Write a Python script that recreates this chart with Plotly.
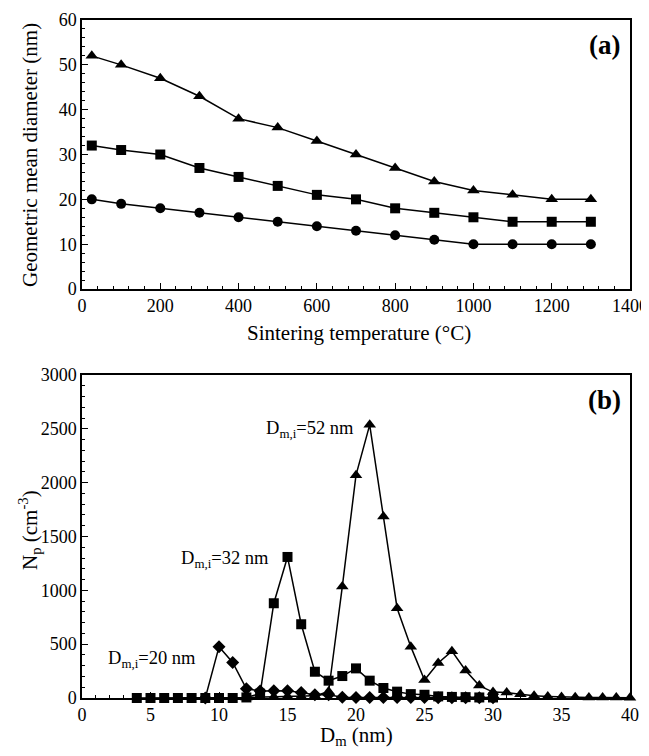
import plotly.graph_objects as go

# Panel (a): geometric mean diameter vs sintering temperature
temp_c = [25, 100, 200, 300, 400, 500, 600, 700, 800, 900, 1000, 1100, 1200, 1300]
gmd_52 = [52, 50, 47, 43, 38, 36, 33, 30, 27, 24, 22, 21, 20, 20]
gmd_32 = [32, 31, 30, 27, 25, 23, 21, 20, 18, 17, 16, 15, 15, 15]
gmd_20 = [20, 19, 18, 17, 16, 15, 14, 13, 12, 11, 10, 10, 10, 10]

# Panel (b): size distributions
dm_20 = [9, 10, 11, 12, 13, 14, 15, 16, 17, 18, 19, 20, 21, 22, 23, 24, 25, 26, 27, 28, 29, 30]
np_20 = [0, 475, 330, 85, 65, 68, 68, 50, 30, 30, 8, 5, 5, 5, 5, 5, 5, 3, 3, 2, 2, 2]
dm_32 = [4, 5, 6, 7, 8, 9, 10, 11, 12, 13, 14, 15, 16, 17, 18, 19, 20, 21, 22, 23, 24, 25, 26, 27, 28, 29, 30]
np_32 = [0, 0, 0, 0, 0, 0, 0, 0, 5, 40, 880, 1310, 685, 244, 161, 204, 275, 161, 93, 59, 36, 30, 15, 10, 8, 5, 5]
dm_52 = [12, 13, 14, 15, 16, 17, 18, 19, 20, 21, 22, 23, 24, 25, 26, 27, 28, 29, 30, 31, 32, 33, 34, 35, 36, 37, 38, 39, 40]
np_52 = [5, 8, 10, 15, 15, 20, 60, 1035, 2070, 2537, 1685, 834, 477, 167, 325, 435, 255, 115, 55, 50, 35, 20, 15, 10, 8, 5, 5, 5, 3]

x_ticks_a = [0, 200, 400, 600, 800, 1000, 1200, 1400]
y_ticks_a = [0, 10, 20, 30, 40, 50, 60]
x_ticks_b = [0, 5, 10, 15, 20, 25, 30, 35, 40]
y_ticks_b = [0, 500, 1000, 1500, 2000, 2500, 3000]

FONT = "Liberation Serif, Times New Roman, Times, DejaVu Serif, serif"
line = dict(color="black", width=1.5)

fig = go.Figure()

def add(x, y, sym, size, xa, ya):
    fig.add_trace(go.Scatter(
        x=x, y=y, mode="lines+markers", line=line,
        marker=dict(symbol=sym, size=size, color="black"),
        xaxis=xa, yaxis=ya, showlegend=False, cliponaxis=False))

add(temp_c, gmd_52, "triangle-up", 11, "x", "y")
add(temp_c, gmd_32, "square", 10, "x", "y")
add(temp_c, gmd_20, "circle", 10, "x", "y")

add(dm_20, np_20, "diamond", 10, "x2", "y2")
add(dm_32, np_32, "square", 10, "x2", "y2")
add(dm_52, np_52, "triangle-up", 11, "x2", "y2")

axis_common = dict(
    showline=True, linecolor="black", linewidth=1.5, mirror=True,
    ticks="inside", ticklen=6, tickwidth=1.2, tickcolor="black",
    showgrid=False, zeroline=False, automargin=False,
    tickfont=dict(family=FONT, size=18, color="black"),
)

# page has an 8px body margin: figure sized/offset to keep plot areas in place
fig.update_layout(
    width=641, height=740,
    margin=dict(l=74, r=19, t=12, b=50),
    paper_bgcolor="white", plot_bgcolor="white",
    font=dict(family=FONT, color="black"),
    xaxis=dict(axis_common, range=[0, 1400], tickvals=x_ticks_a,
               minor=dict(ticks="inside", dtick=40, ticklen=3, tickcolor="black"),
               anchor="y", domain=[0, 1]),
    yaxis=dict(axis_common, range=[0, 60], tickvals=y_ticks_a,
               minor=dict(ticks="inside", dtick=2, ticklen=3, tickcolor="black"),
               anchor="x", domain=[0.6032, 1.0]),
    xaxis2=dict(axis_common, range=[0, 40], tickvals=x_ticks_b,
                minor=dict(ticks="inside", dtick=1, ticklen=3, tickcolor="black"),
                anchor="y2", domain=[0, 1]),
    yaxis2=dict(axis_common, range=[0, 3000], tickvals=y_ticks_b,
                minor=dict(ticks="inside", dtick=100, ticklen=3, tickcolor="black"),
                anchor="x2", domain=[0, 0.4764]),
)

title_font = dict(family=FONT, size=21, color="black")
fig.add_annotation(x=0.505, y=0.5383, xref="paper", yref="paper", text="Sintering temperature (°C)",
                   showarrow=False, xanchor="center", yanchor="middle", font=title_font)
fig.add_annotation(x=0.5, y=-0.056, xref="paper", yref="paper", text="D<sub>m</sub> (nm)",
                   showarrow=False, xanchor="center", yanchor="middle", font=title_font)
fig.add_annotation(x=-0.0949, y=0.8009, xref="paper", yref="paper", text="Geometric mean diameter (nm)",
                   showarrow=False, xanchor="center", yanchor="middle", textangle=-90, font=title_font)
fig.add_annotation(x=-0.0949, y=0.2478, xref="paper", yref="paper", text="N<sub>p</sub> (cm<sup>-3</sup>)",
                   showarrow=False, xanchor="center", yanchor="middle", textangle=-90, font=title_font)

ann_font = dict(family=FONT, size=18.5, color="black")
fig.add_annotation(x=0.985, y=0.97, xref="x domain", yref="y domain", text="<b>(a)</b>",
                   showarrow=False, xanchor="right", yanchor="top",
                   font=dict(family=FONT, size=27, color="black"))
fig.add_annotation(x=0.987, y=0.975, xref="x2 domain", yref="y2 domain", text="<b>(b)</b>",
                   showarrow=False, xanchor="right", yanchor="top",
                   font=dict(family=FONT, size=27, color="black"))
fig.add_annotation(x=20.0, y=2490, xref="x2", yref="y2", text="D<sub>m,i</sub>=52 nm",
                   showarrow=False, xanchor="right", yanchor="middle", font=ann_font)
fig.add_annotation(x=13.8, y=1289, xref="x2", yref="y2", text="D<sub>m,i</sub>=32 nm",
                   showarrow=False, xanchor="right", yanchor="middle", font=ann_font)
fig.add_annotation(x=8.45, y=362, xref="x2", yref="y2", text="D<sub>m,i</sub>=20 nm",
                   showarrow=False, xanchor="right", yanchor="middle", font=ann_font)

fig.write_html("out.html")
